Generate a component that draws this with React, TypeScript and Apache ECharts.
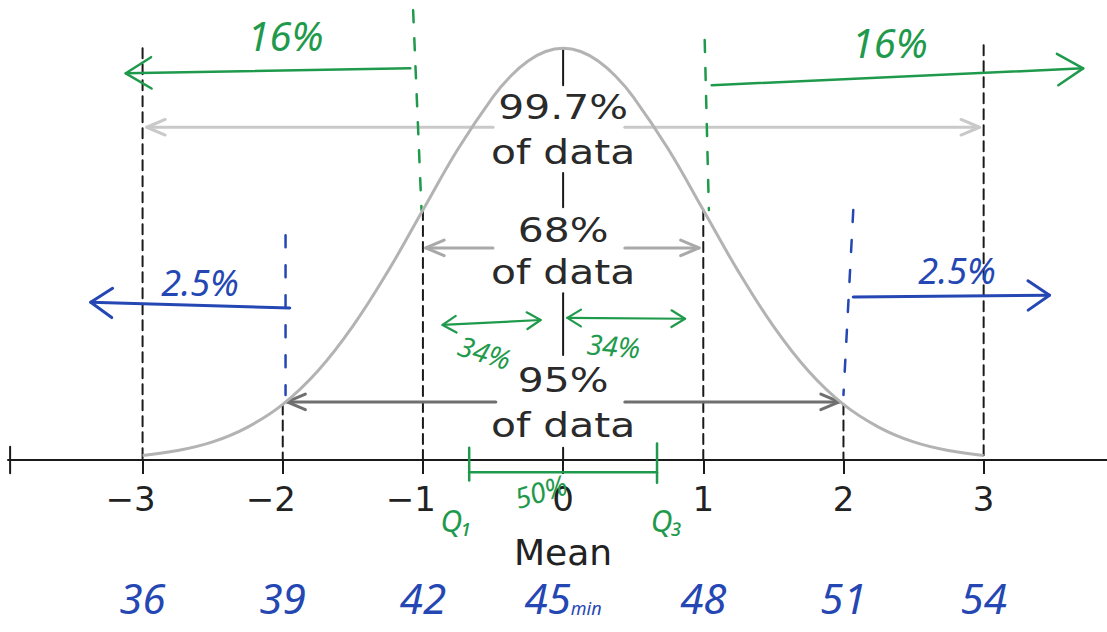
import React, { useEffect, useRef } from "react";
import * as echarts from "echarts";

// ---------- data ----------
const sigmaTicks = [-3, -2, -1, 0, 1, 2, 3];
const sigmaLabels = ["−3", "−2", "−1", "0", "1", "2", "3"];
const minuteLabels = ["36", "39", "42", "45", "48", "51", "54"];
const minuteUnit = "min";
const meanLabel = "Mean";

// bell curve (height relative to the peak)
const curveX = [-3, -2.75, -2.5, -2.25, -2, -1.75, -1.5, -1.25, -1, -0.75, -0.5, -0.375, -0.25, -0.125, 0, 0.125, 0.25, 0.375, 0.5, 0.75, 1, 1.25, 1.5, 1.75, 2, 2.25, 2.5, 2.75, 3];
const curveY = [0.011, 0.023, 0.044, 0.08, 0.135, 0.216, 0.325, 0.458, 0.607, 0.755, 0.882, 0.932, 0.969, 0.992, 1.0, 0.992, 0.969, 0.932, 0.882, 0.755, 0.607, 0.458, 0.325, 0.216, 0.135, 0.08, 0.044, 0.023, 0.011];

type Seg = [number, number, number, number]; // x1, y1, x2, y2 in data units

const sigmaGuides: Seg[] = [
  [-3, 1.0, -3, 0], [-2, 0.135, -2, 0], [-1, 0.607, -1, 0],
  [1, 0.607, 1, 0], [2, 0.135, 2, 0], [3, 1.007, 3, 0],
];
const meanStems: Seg[] = [
  [0, 0.995, 0, 0.91], [0, 0.697, 0, 0.614], [0, 0.405, 0, 0.255], [0, 0.03, 0, 0],
];
const axisEndBar: Seg[] = [[-3.945, 0.032, -3.945, -0.032]];
const spread997: Seg[] = [[-0.5, 0.808, -2.97, 0.808], [0.44, 0.808, 2.97, 0.808]];
const spread68: Seg[] = [[-0.5, 0.515, -0.98, 0.515], [0.44, 0.515, 0.97, 0.515]];
const spread95: Seg[] = [[-0.48, 0.141, -1.97, 0.141], [0.44, 0.141, 1.97, 0.141]];

const greenSdMarks: Seg[] = [[-1.07, 1.092, -1.01, 0.607], [1.01, 1.02, 1.04, 0.607]];
const greenTails: Seg[] = [[-1.09, 0.951, -3.12, 0.939], [1.06, 0.91, 3.71, 0.951]];
const greenHalves: Seg[] = [[-0.86, 0.328, -0.16, 0.34], [0.03, 0.345, 0.87, 0.343]];
const quartileBar: Seg[] = [[-0.67, -0.03, 0.67, -0.03]];
const quartileEnds: Seg[] = [[-0.67, 0.03, -0.67, -0.05], [0.67, 0.04, 0.67, -0.055]];

const blueSdMarks: Seg[] = [[-1.98, 0.546, -1.98, 0.158], [2.07, 0.607, 2.0, 0.158]];
const blueTails: Seg[] = [[-1.95, 0.369, -3.37, 0.383], [2.07, 0.396, 3.47, 0.4]];

type Txt = [string, number, number];
const centerTexts: Txt[] = [
  ["99.7%", 0, 0.857], ["of data", 0, 0.748],
  ["68%", 0, 0.558], ["of data", 0, 0.456],
  ["95%", 0, 0.194], ["of data", 0, 0.085],
];
const greenBigTexts: Txt[] = [["16%", -1.98, 1.03], ["16%", 2.33, 1.015]];
const greenSmallTexts: Txt[] = [["34%", -0.56, 0.262], ["34%", 0.36, 0.278], ["50%", -0.16, -0.075]];
const greenSmallRot = [-0.3, -0.08, 0.3];
const quartileTexts: Txt[] = [["Q₁", -0.76, -0.146], ["Q₃", 0.74, -0.146]];
const blueTexts: Txt[] = [["2.5%", -2.59, 0.43], ["2.5%", 2.81, 0.461]];

// ---------- styles ----------
const FONT = '"DejaVu Sans", sans-serif';
const HAND = '"Noto Sans", "DejaVu Sans", sans-serif';
const GREEN = "#1f9a4c";
const BLUE = "#2547b3";
const INK = "#1a1a1a";

function segSeries(segs: Seg[], color: string, width: number, dash: number[] | null, head: "none" | "end" | "both", headLen = 18, headAng = 0.5) {
  return {
    type: "custom",
    coordinateSystem: "cartesian2d",
    clip: false,
    silent: true,
    animation: false,
    data: segs.map((s) => [s[0], s[1], s[2], s[3]]),
    renderItem: (_p: any, api: any) => {
      const a = api.coord([api.value(0), api.value(1)]);
      const b = api.coord([api.value(2), api.value(3)]);
      const style: any = { stroke: color, lineWidth: width, fill: "none", lineCap: "round", lineJoin: "round" };
      if (dash) style.lineDash = dash;
      const children: any[] = [{ type: "line", shape: { x1: a[0], y1: a[1], x2: b[0], y2: b[1] }, style }];
      const chevron = (tip: number[], from: number[]) => {
        const dx = from[0] - tip[0];
        const dy = from[1] - tip[1];
        const l = Math.hypot(dx, dy) || 1;
        const ux = dx / l, uy = dy / l;
        const r = (ang: number) => [
          tip[0] + headLen * (ux * Math.cos(ang) - uy * Math.sin(ang)),
          tip[1] + headLen * (ux * Math.sin(ang) + uy * Math.cos(ang)),
        ];
        return {
          type: "polyline",
          shape: { points: [r(headAng), tip, r(-headAng)] },
          style: { stroke: color, lineWidth: width, fill: "none", lineCap: "round", lineJoin: "round" },
        };
      };
      if (head === "end" || head === "both") children.push(chevron(b, a));
      if (head === "both") children.push(chevron(a, b));
      return { type: "group", children };
    },
  };
}

function textSeries(items: Txt[], color: string, fontSize: number, family: string, italic: boolean, rot?: number[], scaleX = 1) {
  return {
    type: "custom",
    coordinateSystem: "cartesian2d",
    clip: false,
    silent: true,
    animation: false,
    data: items.map((t) => [t[1], t[2]]),
    renderItem: (params: any, api: any) => {
      const it = items[params.dataIndex];
      const p = api.coord([api.value(0), api.value(1)]);
      return {
        type: "text",
        x: p[0],
        y: p[1],
        scaleX,
        rotation: rot ? rot[params.dataIndex] : 0,
        style: {
          text: it[0],
          fill: color,
          fontSize,
          fontFamily: family,
          fontStyle: italic ? "italic" : "normal",
          align: "center",
          verticalAlign: "middle",
        },
      };
    },
  };
}

const X_MIN = -3.96;
const X_MAX = 3.88;

const option: any = {
  animation: false,
  backgroundColor: "#ffffff",
  grid: { left: 8, right: 0, top: 7, bottom: 172, outerBoundsMode: "none" },
  xAxis: [
    {
      type: "value",
      min: X_MIN,
      max: X_MAX,
      position: "bottom",
      axisLine: { show: true, onZero: false, lineStyle: { color: INK, width: 2 } },
      axisTick: { show: true, customValues: sigmaTicks, length: 14, lineStyle: { color: INK, width: 2 } },
      splitLine: { show: false },
      axisLabel: {
        show: true,
        customValues: sigmaTicks,
        margin: 22,
        formatter: (v: number) => {
          const t = sigmaLabels[sigmaTicks.indexOf(v)] ?? "";
          return t.startsWith("−") ? `{n|${t}}{g|\u00a0}` : `{n|${t}}`;
        },
        rich: {
          n: { fontSize: 34, fontFamily: FONT, color: "#222" },
          g: { width: 24, fontSize: 34 },
        },
      },
    },
    {
      type: "value",
      min: X_MIN,
      max: X_MAX,
      position: "bottom",
      axisLine: { show: false },
      axisTick: { show: false },
      splitLine: { show: false },
      axisLabel: {
        show: true,
        customValues: [0],
        margin: 74,
        formatter: () => meanLabel,
        fontSize: 36,
        fontFamily: FONT,
        color: "#222",
      },
    },
    {
      type: "value",
      min: X_MIN,
      max: X_MAX,
      position: "bottom",
      axisLine: { show: false },
      axisTick: { show: false },
      splitLine: { show: false },
      axisLabel: {
        show: true,
        customValues: sigmaTicks,
        margin: 116,
        formatter: (v: number) => {
          const i = sigmaTicks.indexOf(v);
          const t = minuteLabels[i] ?? "";
          return v === 0 ? `{b|${t}}{s|${minuteUnit}}` : `{b|${t}}`;
        },
        rich: {
          b: { fontSize: 42, fontFamily: HAND, fontStyle: "italic", color: BLUE },
          s: { fontSize: 18, fontFamily: HAND, fontStyle: "italic", color: BLUE, padding: [22, 0, 0, 0] },
        },
      },
    },
  ],
  yAxis: { type: "value", min: 0, max: 1.1, show: false, splitLine: { show: false } },
  series: [
    segSeries(sigmaGuides, INK, 2, [10, 6], "none"),
    segSeries(meanStems, INK, 2, null, "none"),
    segSeries(axisEndBar, INK, 2, null, "none"),
    segSeries(spread997, "#c9c9c9", 3, null, "end", 20, 0.4),
    segSeries(spread68, "#a9a9a9", 3, null, "end", 20, 0.4),
    segSeries(spread95, "#6f6f6f", 3, null, "end", 20, 0.4),
    {
      type: "line",
      data: curveX.map((x, i) => [x, curveY[i]]),
      smooth: 0.4,
      showSymbol: false,
      silent: true,
      lineStyle: { color: "#b3b3b3", width: 3 },
    },
    segSeries(greenSdMarks, GREEN, 2.5, [12, 16], "none"),
    segSeries(greenTails, GREEN, 2.5, null, "end", 30, 0.55),
    segSeries(greenHalves, GREEN, 2.2, null, "both", 16, 0.55),
    segSeries(quartileBar, GREEN, 2.5, null, "none"),
    segSeries(quartileEnds, GREEN, 2.5, null, "none"),
    segSeries(blueSdMarks, BLUE, 2.5, [12, 18], "none"),
    segSeries(blueTails, BLUE, 3, null, "end", 26, 0.6),
    textSeries(centerTexts, "#2a2a2a", 34, FONT, false, undefined, 1.2),
    textSeries(greenBigTexts, GREEN, 40, HAND, true),
    textSeries(greenSmallTexts, GREEN, 28, HAND, true, greenSmallRot),
    textSeries(quartileTexts, GREEN, 30, HAND, true),
    textSeries(blueTexts, BLUE, 36, HAND, true),
  ],
};

export default function App() {
  const ref = useRef<HTMLDivElement>(null);
  useEffect(() => {
    if (!ref.current) return;
    const chart = echarts.init(ref.current, null, { renderer: "svg" });
    chart.setOption(option);
    return () => chart.dispose();
  }, []);
  return (
    <div
      ref={ref}
      style={{ position: "fixed", left: 0, top: 0, width: 1107, height: 632, background: "#ffffff" }}
    />
  );
}
